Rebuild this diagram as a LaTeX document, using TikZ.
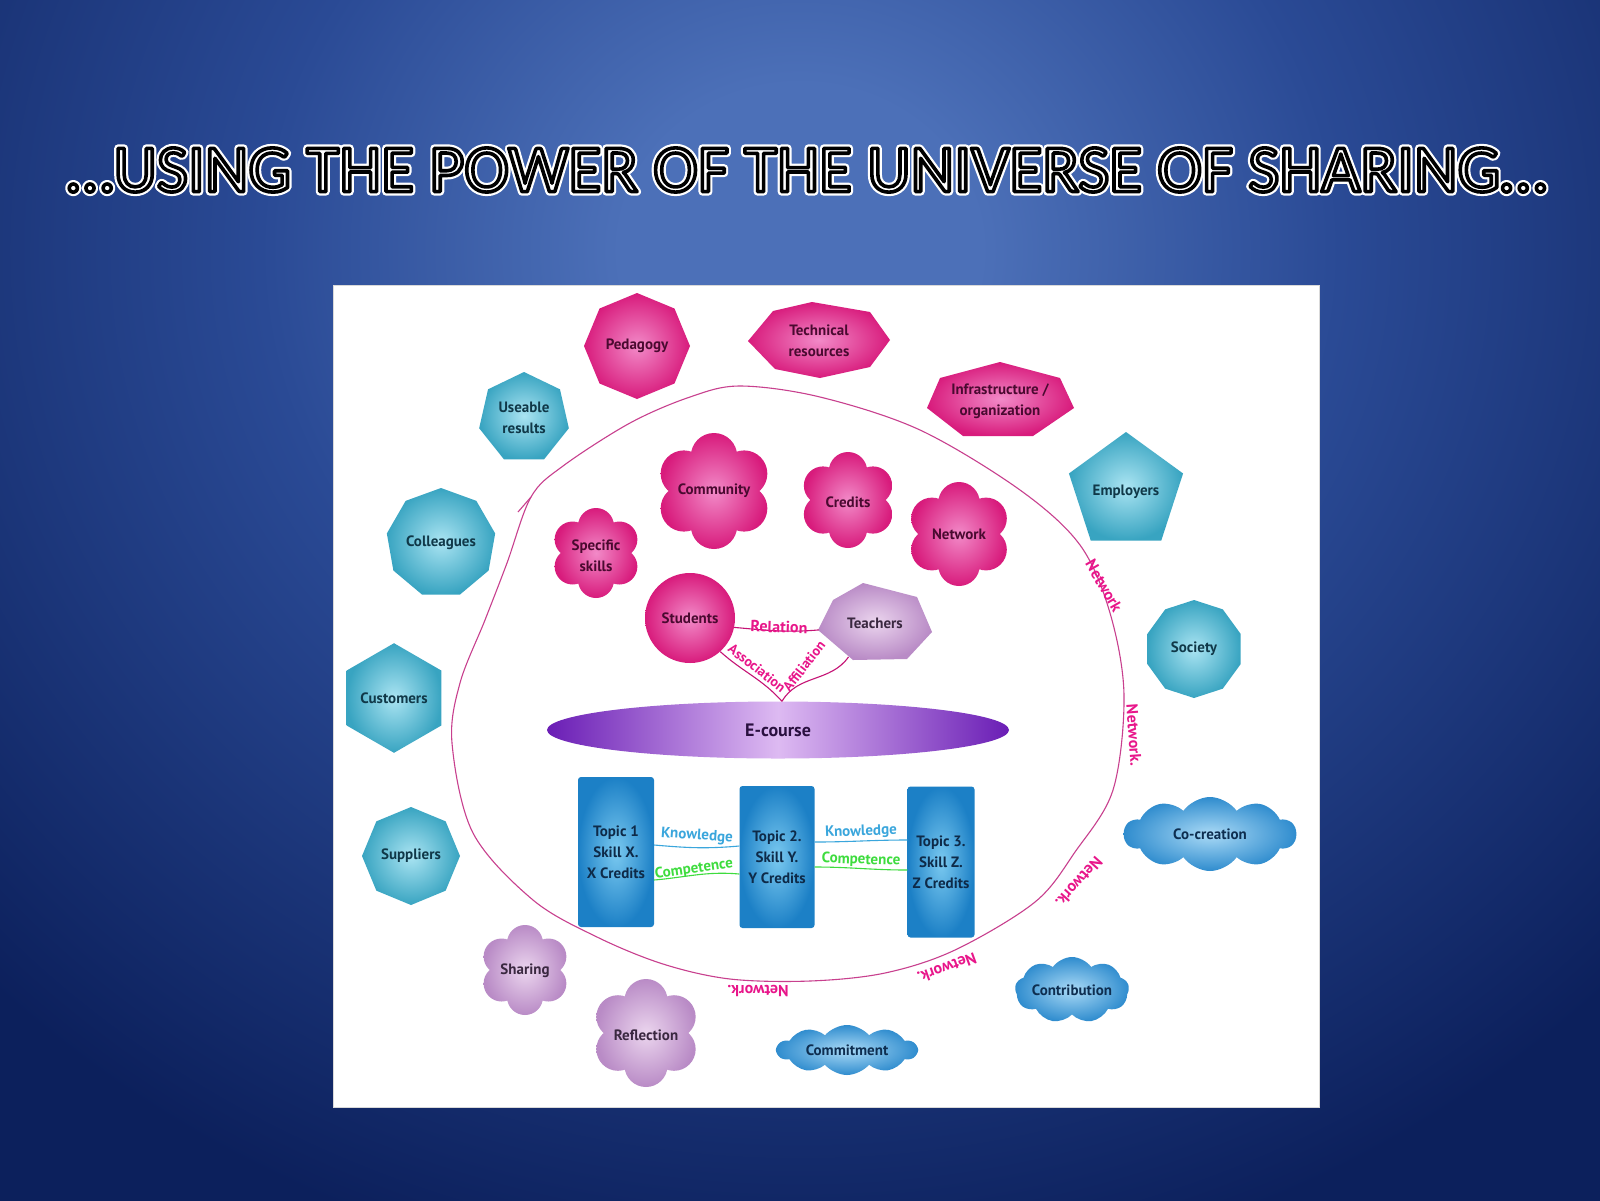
\documentclass[tikz,border=0pt]{standalone}
\usepackage{fontspec}
\usetikzlibrary{shapes.geometric,shapes.symbols,calc}
\newfontfamily\lblfamily{PT Sans}
\newfontfamily\titlefamily{Carlito}
\newcommand\lblfont{\lblfamily\bfseries\fontsize{15}{21}\selectfont}
\newcommand\bigfont{\lblfamily\bfseries\fontsize{18}{22}\selectfont}
\newcommand\netfont{\lblfamily\bfseries\fontsize{16}{18}\selectfont}
\newcommand\smallnetfont{\lblfamily\bfseries\fontsize{14}{16}\selectfont}
\newcommand\ttlfont{\titlefamily\fontsize{67.5}{80}\selectfont}
\newcommand\ttltext{…USING THE POWER OF THE UNIVERSE OF SHARING…}
\newcommand\outlinetext[3]{\special{pdf:literal direct #2 RG #1 w 1 j 2 Tr}#3\special{pdf:literal direct 0 Tr}}
\definecolor{bglight}{HTML}{4C70B8}
\definecolor{bgmid}{HTML}{2A4A95}
\definecolor{bgdark}{HTML}{0C205C}
\pgfdeclareradialshading{bgshade}{\pgfpoint{0bp}{0bp}}{color(0bp)=(bglight); color(1.5bp)=(bglight); color(4.5bp)=(bgmid); color(9.5bp)=(bgdark); color(50bp)=(bgdark)}
\definecolor{pinkin}{HTML}{F28AC8}
\definecolor{pinkout}{HTML}{D81B7C}
\definecolor{pinktext}{HTML}{4A0A30}
\definecolor{tealin}{HTML}{AAE4F2}
\definecolor{tealout}{HTML}{38A4C1}
\definecolor{tealtext}{HTML}{103848}
\definecolor{cloudin}{HTML}{AADAF6}
\definecolor{cloudout}{HTML}{2F8CCE}
\definecolor{cloudtext}{HTML}{0E2E50}
\definecolor{lavin}{HTML}{EBD5EE}
\definecolor{lavout}{HTML}{B98BC6}
\definecolor{lavtext}{HTML}{3A2840}
\definecolor{topin}{HTML}{7AC9F0}
\definecolor{topout}{HTML}{1C80C6}
\definecolor{toptext}{HTML}{0E2A48}
\definecolor{edark}{HTML}{6A1DB5}
\definecolor{elight}{HTML}{DDBAF2}
\definecolor{etext}{HTML}{2A1040}
\definecolor{loopc}{HTML}{C8408E}
\definecolor{netc}{HTML}{E8168A}
\definecolor{knowc}{HTML}{3AA6DC}
\definecolor{compc}{HTML}{3EDC3E}
\tikzset{
  txtbase/.style={font=\lblfont, align=center, inner sep=0pt},
  pinkpoly/.style={txtbase, regular polygon, shade, inner color=pinkin, outer color=pinkout, text=pinktext},
  tealpoly/.style={txtbase, regular polygon, shade, inner color=tealin, outer color=tealout, text=tealtext},
  cloudsty/.style={txtbase, cloud, cloud ignores aspect, shade, inner color=cloudin, outer color=cloudout, text=cloudtext},
  topicbox/.style={txtbase, rectangle, rounded corners=3pt, shade, inner color=topin, outer color=topout, text=toptext},
  pinktxt/.style={txtbase, text=pinktext},
  lavtxt/.style={txtbase, text=lavtext},
  nettxt/.style={font=\netfont, text=netc, inner sep=0pt},
  smallnet/.style={font=\smallnetfont, text=netc, inner sep=0pt},
  loopline/.style={draw=loopc, line width=1.1pt},
  relline/.style={draw=netc!85!black, line width=1.1pt},
  knowline/.style={draw=knowc, line width=1.1pt},
  compline/.style={draw=compc, line width=1.1pt},
  ttlnode/.style={font=\ttlfont, inner sep=0pt}
}
\newcommand\flowershape[5]{%
  \shade[inner color=#4, outer color=#5] (#1,#2) circle[radius=0.74*#3]
    foreach \a in {90,150,...,390} { (#1,#2) ++(\a:{0.6*#3}) circle[radius={0.4*#3}] };
}
\begin{document}
\begin{tikzpicture}[x=1pt,y=-1pt]
\useasboundingbox (0,0) rectangle (1600,1200);
% background
\begin{scope}
  \clip (0,0) rectangle (1600,1200);
  \shade[shading=bgshade] (800,250) ellipse [x radius=3000, y radius=2750];
\end{scope}
% title
\node[ttlnode, text=white] (title) at (807,170)
  {\rlap{\outlinetext{8}{1 1 1}{\ttltext}}\outlinetext{3.6}{0 0 0}{\ttltext}};
% panel
\fill[white] (333,285) rectangle (1319,1107);
\draw[draw=black!15, line width=0.8pt] (333,285) rectangle (1319,1107);

% outer loop
\draw[loopline] plot[smooth cycle, tension=0.55] coordinates {
 (740,386) (820,397) (920,430) (1020,490) (1080,545) (1110,613) (1124,695)
 (1113,790) (1075,852) (1035,902) (955,950) (885,973) (810,981) (730,979)
 (663,964) (597,937) (533,900) (473,833) (452,743) (460,683) (485,620)
 (507,563) (531,497) (563,466) (630,423) (690,397)};
\coordinate (looptip) at (531,497);
\coordinate (loopbarb) at (518,512);
\draw[loopline] (looptip) -- (loopbarb);

% network labels
\node[nettxt, rotate=-60] (net1) at (1104,586) {Network};
\node[nettxt, rotate=-86] (net2) at (1134,735) {Network.};
\node[nettxt, rotate=-132] (net3) at (1079,882) {Network.};
\node[nettxt, rotate=-160] (net4) at (947,968) {Network.};
\node[nettxt, rotate=180] (net5) at (758,991) {Network.};

% top shapes
\node[pinkpoly, regular polygon sides=8, shape border rotate=22.5, minimum size=106] (pedagogy) at (637,346) {Pedagogy};
\shade[inner color=pinkin, outer color=pinkout]
  (748,341) -- (773,311) -- (812,302) -- (870,312) -- (890,340) -- (870,367) -- (820,378) -- (775,369) -- cycle;
\node[pinktxt] (technical) at (819,341) {Technical\\resources};
\shade[inner color=pinkin, outer color=pinkout]
  (927,408) -- (940,378) -- (1000,362) -- (1060,378) -- (1074,408) -- (1033,436) -- (963,436) -- cycle;
\node[pinktxt] (infra) at (1000,401) {Infrastructure /\\organization};

% teal polygons
\node[tealpoly, regular polygon sides=7, minimum size=92] (useable) at (524,418) {Useable\\results};
\node[tealpoly, regular polygon sides=9, minimum size=110] (colleagues) at (441,543) {Colleagues};
\node[tealpoly, regular polygon sides=6, shape border rotate=30, minimum size=105] (customers) at (394,698) {Customers};
\node[tealpoly, regular polygon sides=8, shape border rotate=22.5, minimum size=98] (suppliers) at (411,856) {Suppliers};
\node[tealpoly, regular polygon sides=5, minimum size=120] (employers) at (1126,492) {Employers};
\node[tealpoly, regular polygon sides=10, shape border rotate=18, minimum size=98] (society) at (1194,649) {Society};

% clouds
\node[cloudsty, cloud puffs=10, cloud puff arc=110, minimum width=172, minimum height=74] (cocreation) at (1210,834) {Co-creation};
\node[cloudsty, cloud puffs=9, cloud puff arc=110, minimum width=114, minimum height=66] (contribution) at (1072,990) {Contribution};
\node[cloudsty, cloud puffs=10, cloud puff arc=100, minimum width=140, minimum height=50] (commitment) at (847,1050) {Commitment};

% pink flowers
\flowershape{714}{491}{58}{pinkin}{pinkout}
\node[pinktxt] (community) at (714,491) {Community};
\flowershape{848}{500}{48}{pinkin}{pinkout}
\node[pinktxt] (credits) at (848,502) {Credits};
\flowershape{959}{534}{52}{pinkin}{pinkout}
\node[pinktxt] (network) at (959,534) {Network};
\flowershape{596}{553}{45}{pinkin}{pinkout}
\node[pinktxt] (skills) at (596,556) {Specific\\skills};
% lavender flowers
\flowershape{525}{970}{45}{lavin}{lavout}
\node[lavtxt] (sharing) at (525,971) {Sharing};
\flowershape{646}{1033}{54}{lavin}{lavout}
\node[lavtxt] (reflection) at (646,1035) {Reflection};

% students and teachers
\node[txtbase, circle, minimum size=90, shade, inner color=pinkin, outer color=pinkout, text=pinktext] (students) at (690,618) {Students};
\shade[inner color=lavin, outer color=lavout]
  (818,630) -- (833,600) -- (863,583) -- (917,597) -- (932,632) -- (907,659) -- (853,660) -- cycle;
\node[lavtxt, ellipse, minimum width=114, minimum height=76] (teachers) at (875,623) {Teachers};

% E-course
\node[ellipse, minimum width=462, minimum height=57, inner sep=0pt, left color=edark, right color=edark, middle color=elight, font=\bigfont, text=etext] (ecourse) at (778,730) {E-course};

% relations
\draw[relline] (students.-12) to[out=-5, in=185] (teachers.187);
\node[nettxt, rotate=-2] (relation) at (779,627) {Relation};
\draw[relline] (students.-48) to[out=-42, in=132] ([xshift=4pt]ecourse.north);
\node[smallnet, rotate=-38] (association) at (757,668) {Association};
\draw[relline] ([xshift=4pt]ecourse.north) to[out=60, in=-125] (teachers.232);
\node[smallnet, rotate=52] (affiliation) at (804,666) {Affiliation};

% topics
\node[topicbox, minimum width=76, minimum height=150] (topic1) at (616,852) {Topic 1\\Skill X.\\X Credits};
\node[topicbox, minimum width=75, minimum height=142] (topic2) at (777,857) {Topic 2.\\Skill Y.\\Y Credits};
\node[topicbox, minimum width=67, minimum height=151] (topic3) at (941,862) {Topic 3.\\Skill Z.\\Z Credits};

\draw[knowline] ([yshift=7pt]topic1.east) to[out=-5, in=185] ([yshift=11pt]topic2.west);
\node[txtbase, text=knowc, rotate=-4] (know1) at (697,836) {Knowledge};
\draw[compline] ([yshift=-28pt]topic1.east) to[out=5, in=175] ([yshift=-17pt]topic2.west);
\node[txtbase, text=compc, rotate=8] (comp1) at (694,869) {Competence};
\draw[knowline] ([yshift=15pt]topic2.east) to[out=0, in=180] ([yshift=22pt]topic3.west);
\node[txtbase, text=knowc, rotate=2] (know2) at (861,832) {Knowledge};
\draw[compline] ([yshift=-10pt]topic2.east) to[out=0, in=180] ([yshift=-8pt]topic3.west);
\node[txtbase, text=compc, rotate=-2] (comp2) at (861,860) {Competence};
\end{tikzpicture}
\end{document}
